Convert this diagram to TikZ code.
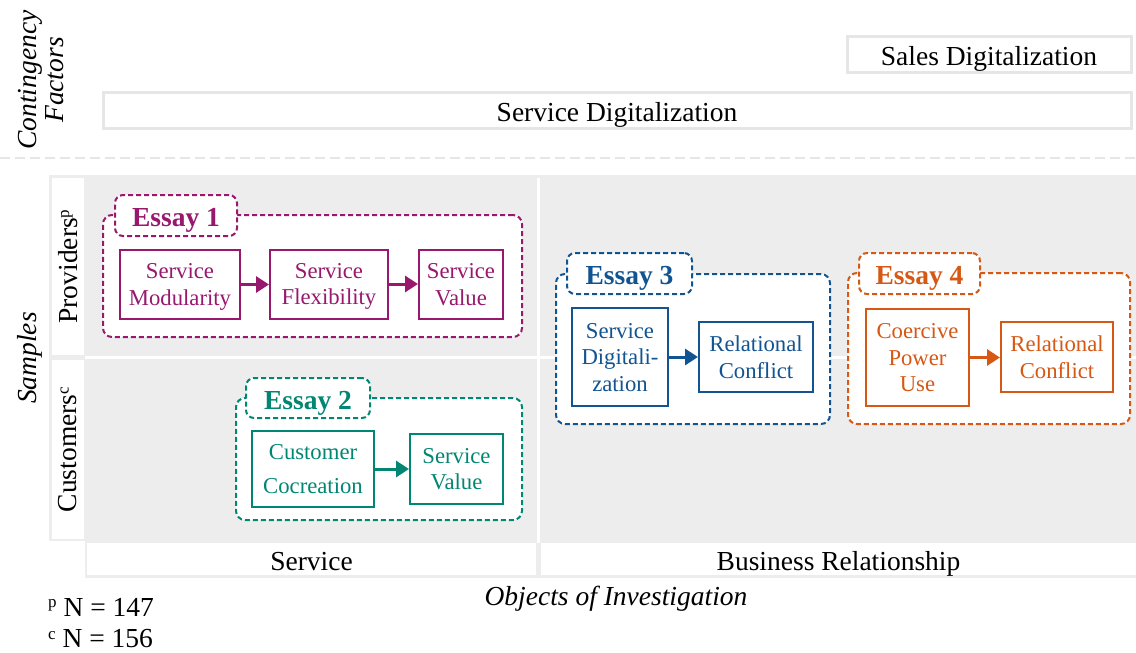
\documentclass[tikz,border=0pt]{standalone}
\usepackage{fontspec}
\setmainfont{Liberation Serif}
\usetikzlibrary{arrows.meta}
\definecolor{cpur}{RGB}{152,24,110}
\definecolor{cteal}{RGB}{0,135,115}
\definecolor{cblue}{RGB}{17,84,145}
\definecolor{corg}{RGB}{213,88,20}
\definecolor{gfill}{RGB}{237,237,237}
\definecolor{gline}{RGB}{230,230,230}
\newcommand{\smsup}[1]{\raisebox{0.3em}{\fontsize{17}{17}\selectfont #1}}
\tikzset{
  big/.style={font=\fontsize{27.5}{32}\selectfont},
  oneline/.style={text height=22pt, text depth=0pt},
  hdr/.style={draw=gline, line width=3pt, fill=white, minimum height=36pt, inner sep=0pt, big, oneline},
  cell/.style={fill=white, draw=none, inner sep=0pt, big, oneline},
  outerbox/.style={draw=#1, dash pattern=on 5pt off 3pt, line width=2pt, rounded corners=9pt, fill=white, inner sep=0pt},
  tabbox/.style={draw=#1, dash pattern=on 5pt off 3pt, line width=2pt, rounded corners=8pt, fill=white, inner sep=0pt, text=#1, font=\fontsize{27.5}{32}\selectfont\bfseries, oneline},
  varbox/.style={draw=#1, line width=2pt, fill=white, inner sep=0pt, text=#1, align=center, font=\fontsize{22.7}{26.5}\selectfont, text depth=0pt},
  arr/.style={draw=#1, line width=3pt, -{Triangle[length=13pt,width=16pt]}},
}
\begin{document}
\begin{tikzpicture}[x=1pt,y=-1pt]
\useasboundingbox (0,0) rectangle (1136,653);
% contingency factors
\node[rotate=90, align=center, font=\fontsize{27.5}{27}\selectfont\itshape] (cf) at (41,80) {Contingency\\Factors};
\node[hdr, minimum width=284pt] (sales) at (989,54) {Sales Digitalization};
\node[hdr, minimum width=1028pt] (sdig) at (617,110) {Service Digitalization};
\draw[gline, line width=2pt, dash pattern=on 10pt off 5pt] (0,158) -- (1136,158);
% table
\fill[gfill] (49,175) rectangle (1136,541);
\fill[gfill] (85,541) rectangle (1136,578);
\node[cell, minimum width=32pt, minimum height=177pt] (prov) at (68,266.5) {};
\node[cell, minimum width=32pt, minimum height=179pt] (cust) at (68,449.5) {};
\node[rotate=90, big] (provt) at (prov) {Providers\smsup{p}};
\node[rotate=90, big] (custt) at (cust) {Customers\smsup{c}};
\node[cell, minimum width=449pt, minimum height=32pt] (servh) at (311.5,559) {Service};
\node[cell, minimum width=595pt, minimum height=32pt] (brh) at (838.5,559) {Business Relationship};
\fill[white] (537,178) rectangle (540,543);
\fill[white] (85,355.5) rectangle (1136,358.5);
\node[rotate=90, font=\fontsize{27.5}{32}\selectfont\itshape] (samp) at (30,358) {Samples};
\node[font=\fontsize{27.5}{32}\selectfont\itshape] (obj) at (616,599) {Objects of Investigation};
\node[big, anchor=west, inner sep=0pt] (np) at (48,607) {\smsup{p} N = 147};
\node[big, anchor=west, inner sep=0pt] (nc) at (48,639) {\smsup{c} N = 156};
% Essay 1
\node[outerbox=cpur, minimum width=419pt, minimum height=122pt] (e1) at (312.5,276) {};
\node[tabbox=cpur, minimum width=122pt, minimum height=41pt] (e1t) at (176,215.5) {Essay 1};
\node[varbox=cpur, minimum width=120pt, minimum height=69pt] (m1) at (180,284.5) {Service\\Modularity};
\node[varbox=cpur, minimum width=118pt, minimum height=69pt] (f1) at (329,284) {Service\\Flexibility};
\node[varbox=cpur, minimum width=84pt, minimum height=69pt] (v1) at (461,284.5) {Service\\Value};
\draw[arr=cpur] (m1.east) -- (f1.west |- m1.east);
\draw[arr=cpur] (f1.east) -- (v1.west |- f1.east);
% Essay 2
\node[outerbox=cteal, minimum width=286pt, minimum height=122pt] (e2) at (379,459) {};
\node[tabbox=cteal, minimum width=124pt, minimum height=40pt] (e2t) at (308,398) {Essay 2};
\node[varbox=cteal, minimum width=122pt, minimum height=76pt, font=\fontsize{22.7}{34}\selectfont] (cc) at (313,469) {Customer\\Cocreation};
\node[varbox=cteal, minimum width=93pt, minimum height=70pt] (v2) at (456.5,469) {Service\\Value};
\draw[arr=cteal] (cc.east) -- (v2.west);
% Essay 3
\node[outerbox=cblue, minimum width=274pt, minimum height=150pt] (e3) at (693,349) {};
\node[tabbox=cblue, minimum width=125pt, minimum height=41pt] (e3t) at (629.5,273.5) {Essay 3};
\node[varbox=cblue, minimum width=96pt, minimum height=98pt] (sd) at (620,357) {Service\\Digitali-\\zation};
\node[varbox=cblue, minimum width=114pt, minimum height=70pt] (rc3) at (756,357) {Relational\\Conflict};
\draw[arr=cblue] (sd.east) -- (rc3.west);
% Essay 4
\node[outerbox=corg, minimum width=282pt, minimum height=151pt] (e4) at (989,348.5) {};
\node[tabbox=corg, minimum width=121pt, minimum height=41pt] (e4t) at (919.5,273.5) {Essay 4};
\node[varbox=corg, minimum width=103pt, minimum height=97pt] (cp) at (917.5,357.5) {Coercive\\Power\\Use};
\node[varbox=corg, minimum width=112pt, minimum height=70pt] (rc4) at (1057,357) {Relational\\Conflict};
\draw[arr=corg] (cp.east) -- (rc4.west |- cp.east);
\end{tikzpicture}
\end{document}
